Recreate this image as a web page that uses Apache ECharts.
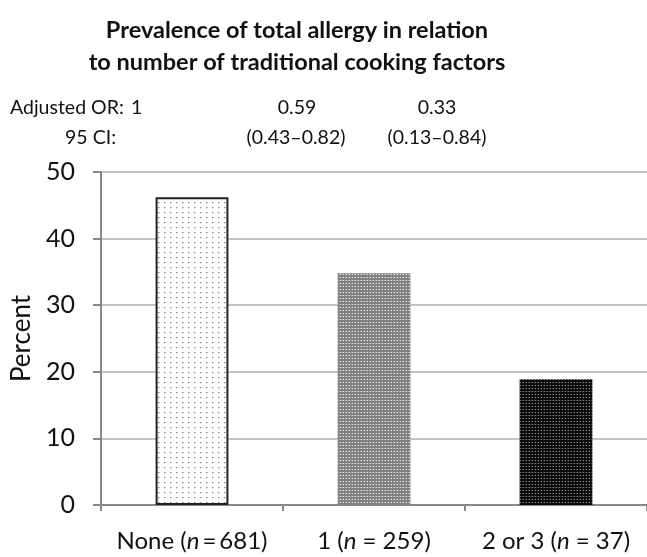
<!DOCTYPE html>
<html><head><meta charset="utf-8">
<script src="https://cdn.jsdelivr.net/npm/echarts@6/dist/echarts.min.js"></script>
<style>html,body{margin:0;padding:0;background:#fff}#c{width:647px;height:557px}</style>
</head><body><div id="c"></div>
<script>
const categories = ['None', '1', '2 or 3'];
const sampleSizes = ['681', '259', '37'];
const percentValues = [46.2, 34.8, 18.9];
const yTicks = [0, 10, 20, 30, 40, 50];
const orValues = ['1', '0.59', '0.33'];
const ciValues = ['', '(0.43\u20130.82)', '(0.13\u20130.84)'];

function makePattern(w, h, bg, draw) {
  const c = document.createElement('canvas');
  c.width = w; c.height = h;
  const g = c.getContext('2d');
  g.fillStyle = bg; g.fillRect(0, 0, w, h);
  draw(g);
  return c;
}
const pat1 = makePattern(6, 5, '#ffffff', g => {
  g.fillStyle = '#8a8a8a';
  g.fillRect(2, 2, 1, 1);
  g.fillStyle = '#c4c4c4';
  g.fillRect(3, 2, 1, 1);
  g.fillStyle = '#dcdcdc';
  g.fillRect(2, 3, 1, 1);
});
const pat2 = makePattern(3, 3, '#808080', g => {
  g.fillStyle = '#ececec';
  g.fillRect(1, 1, 1, 1);
  g.fillStyle = '#acacac';
  g.fillRect(0, 1, 1, 1);
});
const pat3 = makePattern(3, 3, '#0c0c0c', g => {
  g.fillStyle = '#8a8a8a';
  g.fillRect(1, 1, 1, 1);
  g.fillStyle = '#3a3a3a';
  g.fillRect(0, 1, 1, 1);
});
const patterns = [pat1, pat2, pat3];
const borders = [{borderColor: '#222', borderWidth: 2}, {borderWidth: 0}, {borderWidth: 0}];

const font = 'Lato';
const annFont = '19.5px "' + font + '"';
const chart = echarts.init(document.getElementById('c'), null, {renderer: 'canvas'});
chart.setOption({
  animation: false,
  backgroundColor: '#fff',
  textStyle: {fontFamily: font},
  title: {
    text: 'Prevalence of total allergy in relation\nto number of traditional cooking factors',
    left: 292, top: 9, textAlign: 'center',
    textStyle: {fontFamily: font, fontWeight: 'bold', fontSize: 23.5, lineHeight: 32, color: '#111'}
  },
  graphic: [
    {type: 'text', left: 10, top: 98, style: {text: 'Adjusted OR:', font: annFont, fill: '#111'}},
    {type: 'text', left: 131, top: 98, style: {text: orValues[0], font: annFont, fill: '#111'}},
    {type: 'text', x: 297, top: 98, style: {text: orValues[1], textAlign: 'center', font: annFont, fill: '#111'}},
    {type: 'text', x: 437, top: 98, style: {text: orValues[2], textAlign: 'center', font: annFont, fill: '#111'}},
    {type: 'text', x: 116, top: 128, style: {text: '95 CI:', textAlign: 'right', font: annFont, fill: '#111'}},
    {type: 'text', x: 296, top: 128, style: {text: ciValues[1], textAlign: 'center', font: annFont, fill: '#111'}},
    {type: 'text', x: 437, top: 128, style: {text: ciValues[2], textAlign: 'center', font: annFont, fill: '#111'}}
  ],
  grid: {left: 101, right: 0, top: 172, bottom: 52, containLabel: false},
  xAxis: {
    type: 'category',
    data: categories,
    axisLine: {lineStyle: {color: '#888', width: 2}},
    axisTick: {show: true, length: 6, lineStyle: {color: '#888', width: 2}, alignWithLabel: false},
    axisLabel: {
      interval: 0,
      margin: 24,
      formatter: (v, i) => v + ' ({i|n}' + (i === 0 ? '\u2009=\u2009' : ' = ') + sampleSizes[i] + ')',
      fontSize: 24, color: '#111', fontFamily: font,
      rich: {i: {fontStyle: 'italic', fontSize: 24, color: '#111', fontFamily: font}}
    }
  },
  yAxis: {
    type: 'value', min: 0, max: 50, interval: 10,
    name: 'Percent', nameLocation: 'middle', nameGap: 65,
    nameTextStyle: {fontSize: 26, color: '#111', fontFamily: font},
    axisLine: {show: true, lineStyle: {color: '#888', width: 2}},
    axisTick: {show: true, length: 8, lineStyle: {color: '#888', width: 2}},
    axisLabel: {fontSize: 25, color: '#111', margin: 26, fontFamily: font},
    splitLine: {lineStyle: {color: '#c4c4c4', width: 2}}
  },
  series: [{
    type: 'bar',
    barWidth: '40%',
    data: percentValues.map((v, i) => ({
      value: v,
      itemStyle: Object.assign({color: {image: patterns[i], repeat: 'repeat'}}, borders[i])
    }))
  }]
});
</script></body></html>
